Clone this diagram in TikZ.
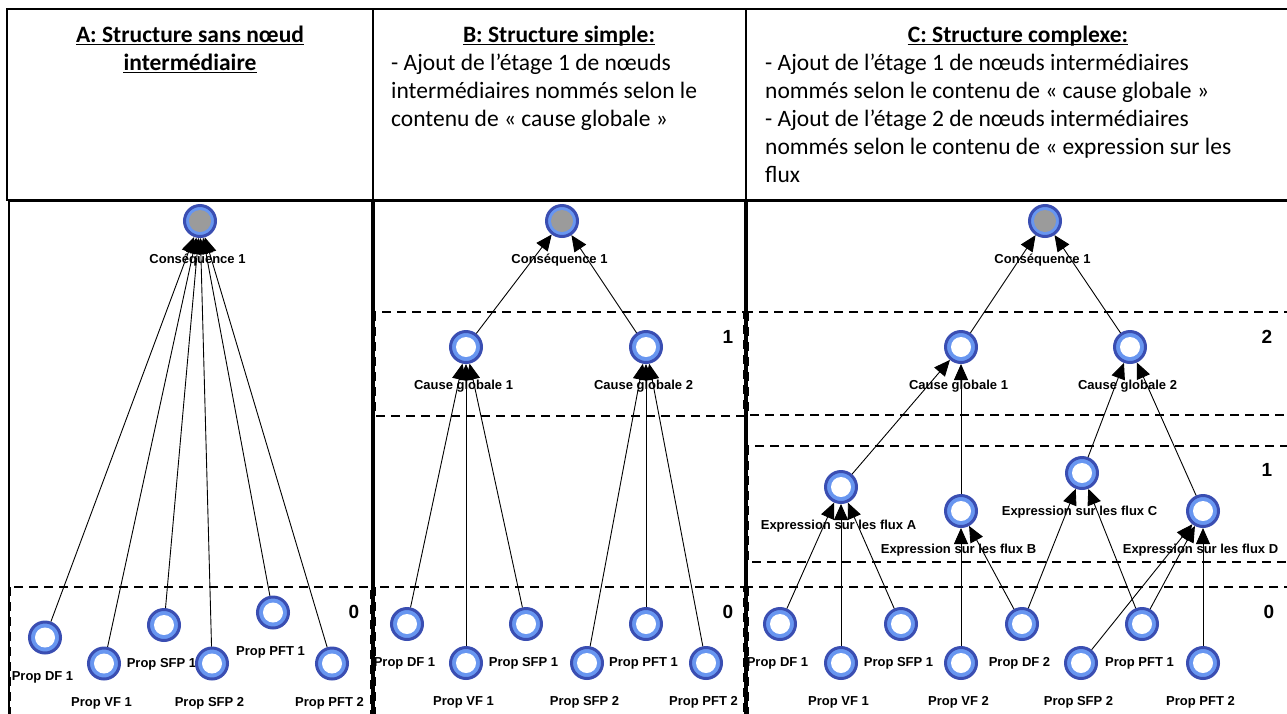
\documentclass[tikz,border=0pt]{standalone}
\usepackage{fontspec}
\setmainfont{Carlito}
\newfontfamily\labfont{Liberation Sans}
\usetikzlibrary{arrows.meta}
\definecolor{dkblue}{RGB}{58,78,178}
\definecolor{ltblue}{RGB}{104,150,240}
\definecolor{inngray}{RGB}{155,155,155}
\tikzset{
  nd/.style={circle, draw=dkblue, line width=3pt, fill=ltblue, minimum size=31pt, inner sep=0pt,
    path picture={\fill[white] (path picture bounding box.center) circle (10pt);}},
  ndc/.style={nd, path picture={\fill[inngray] (path picture bounding box.center) circle (11pt);}},
  lbl/.style={font=\labfont\bfseries\fontsize{13}{15}\selectfont, anchor=center, inner sep=0pt, xshift=-2.5pt, yshift=-22.5pt, text=black},
  edge/.style={line width=0.9pt, -{Triangle[length=16pt,width=14pt]}},
  frame/.style={line width=1.8pt},
  band/.style={line width=2pt, dash pattern=on 9pt off 6pt},
  lvl/.style={font=\labfont\bfseries\fontsize{19}{22}\selectfont, inner sep=0pt},
  hd/.style={font=\fontsize{23.5}{28}\selectfont, inner sep=0pt},
  hdb/.style={font=\bfseries\fontsize{23.5}{28}\selectfont, inner sep=0pt},
  uline/.style={line width=1.5pt}
}
\begin{document}
\begin{tikzpicture}[x=1pt,y=-1pt]
\useasboundingbox (0,0) rectangle (1287,713);
\clip (0,0) rectangle (1287,713);

% ---------- header frame ----------
\draw[frame] (7,9) rectangle (1295,200);
\draw[frame] (373,9) -- (373,200);
\draw[frame] (746,9) -- (746,200);

% ---------- lower panels ----------
\draw[frame] (9,201) rectangle (372,730);
\draw[frame] (374,201) rectangle (745,730);
\draw[frame] (747,201) rectangle (1300,730);

% ---------- level bands ----------
\draw[band] (10,587) rectangle (371,735);
\draw[band] (375,312) rectangle (744,416);
\draw[band] (375,587) rectangle (744,735);
\draw[band] (748,312) rectangle (1300,415);
\draw[band] (748,446) rectangle (1300,562);
\draw[band] (748,587) rectangle (1300,735);

\node[lvl] (lvA0) at (354,612) {0};
\node[lvl] (lvB1) at (728,337) {1};
\node[lvl] (lvB0) at (728,612) {0};
\node[lvl] (lvC2) at (1267,337) {2};
\node[lvl] (lvC1) at (1267,470) {1};
\node[lvl] (lvC0) at (1269,612) {0};

% ---------- header texts ----------
\node[hdb, anchor=base] (tA1) at (190,42) {A: Structure sans nœud};
\node[hdb, anchor=base] (tA2) at (190,70) {intermédiaire};
\draw[uline] ([yshift=-2.5pt]tA1.base west) -- ([yshift=-2.5pt]tA1.base east);
\draw[uline] ([yshift=-2.5pt]tA2.base west) -- ([yshift=-2.5pt]tA2.base east);

\node[hdb, anchor=base] (tB) at (559,42) {B: Structure simple:};
\draw[uline] ([yshift=-2.5pt]tB.base west) -- ([yshift=-2.5pt]tB.base east);
\node[hd, anchor=base west] (bB1) at (391,70) {- Ajout de l’étage 1 de nœuds};
\node[hd, anchor=base west] (bB2) at (391,98) {intermédiaires nommés selon le};
\node[hd, anchor=base west] (bB3) at (391,126) {contenu de «~cause globale~»};

\node[hdb, anchor=base] (tC) at (1018,42) {C: Structure complexe:};
\draw[uline] ([yshift=-2.5pt]tC.base west) -- ([yshift=-2.5pt]tC.base east);
\node[hd, anchor=base west] (bC1) at (765,70) {- Ajout de l’étage 1 de nœuds intermédiaires};
\node[hd, anchor=base west] (bC2) at (765,98) {nommés selon le contenu de «~cause globale~»};
\node[hd, anchor=base west] (bC3) at (765,126) {- Ajout de l’étage 2 de nœuds intermédiaires};
\node[hd, anchor=base west] (bC4) at (765,154) {nommés selon le contenu de «~expression sur les};
\node[hd, anchor=base west] (bC5) at (765,182) {flux};

% ---------- panel A ----------
\node[ndc, label={[lbl]below:Conséquence 1}] (cA) at (200,221) {};
\node[nd, label={[lbl]below:Prop DF 1}] (a1) at (45,637.5) {};
\node[nd, label={[lbl]below:Prop VF 1}] (a2) at (104,663.5) {};
\node[nd, label={[lbl]below:Prop SFP 1}] (a3) at (164,625) {};
\node[nd, label={[lbl]below:Prop SFP 2}] (a4) at (212,663.5) {};
\node[nd, label={[lbl]below:Prop PFT 1}] (a5) at (273,612.5) {};
\node[nd, label={[lbl]below:Prop PFT 2}] (a6) at (332,663.5) {};
\foreach \s in {a1,a2,a3,a4,a5,a6} \draw[edge] (\s) -- (cA);

% ---------- panel B ----------
\node[ndc, label={[lbl]below:Conséquence 1}] (cB) at (562,221) {};
\node[nd, label={[lbl]below:Cause globale 1}] (g1) at (466,347) {};
\node[nd, label={[lbl]below:Cause globale 2}] (g2) at (646,347) {};
\node[nd, label={[lbl]below:Prop DF 1}] (b1) at (407,624) {};
\node[nd, label={[lbl]below:Prop VF 1}] (b2) at (466,663) {};
\node[nd, label={[lbl]below:Prop SFP 1}] (b3) at (526,624) {};
\node[nd, label={[lbl]below:Prop SFP 2}] (b4) at (587,663) {};
\node[nd, label={[lbl]below:Prop PFT 1}] (b5) at (646,624) {};
\node[nd, label={[lbl]below:Prop PFT 2}] (b6) at (706,663) {};
\foreach \s in {b1,b2,b3} \draw[edge] (\s) -- (g1);
\foreach \s in {b4,b5,b6} \draw[edge] (\s) -- (g2);
\draw[edge] (g1) -- (cB);
\draw[edge] (g2) -- (cB);

% ---------- panel C ----------
\node[ndc, label={[lbl]below:Conséquence 1}] (cC) at (1045,221) {};
\node[nd, label={[lbl]below:Cause globale 1}] (h1) at (961,347) {};
\node[nd, label={[lbl]below:Cause globale 2}] (h2) at (1130,347) {};
\node[nd, label={[lbl]below:Expression sur les flux A}] (eA) at (841,487) {};
\node[nd, label={[lbl]below:Expression sur les flux B}] (eB) at (961,511) {};
\node[nd, label={[lbl]below:Expression sur les flux C}] (eC) at (1082,473) {};
\node[nd, label={[lbl]below:Expression sur les flux D}] (eD) at (1203,511) {};
\node[nd, label={[lbl]below:Prop DF 1}] (c1) at (780,624) {};
\node[nd, label={[lbl]below:Prop VF 1}] (c2) at (841,663) {};
\node[nd, label={[lbl]below:Prop SFP 1}] (c3) at (901,624) {};
\node[nd, label={[lbl]below:Prop VF 2}] (c4) at (961,663) {};
\node[nd, label={[lbl]below:Prop DF 2}] (c5) at (1022,624) {};
\node[nd, label={[lbl]below:Prop SFP 2}] (c6) at (1081,663) {};
\node[nd, label={[lbl]below:Prop PFT 1}] (c7) at (1142,624) {};
\node[nd, label={[lbl]below:Prop PFT 2}] (c8) at (1203,663) {};
\foreach \s in {c1,c2,c3} \draw[edge] (\s) -- (eA);
\foreach \s in {c4,c5} \draw[edge] (\s) -- (eB);
\foreach \s in {c5,c7} \draw[edge] (\s) -- (eC);
\foreach \s in {c6,c7,c8} \draw[edge] (\s) -- (eD);
\draw[edge] (eA) -- (h1);
\draw[edge] (eB) -- (h1);
\draw[edge] (eC) -- (h2);
\draw[edge] (eD) -- (h2);
\draw[edge] (h1) -- (cC);
\draw[edge] (h2) -- (cC);
\end{tikzpicture}
\end{document}
